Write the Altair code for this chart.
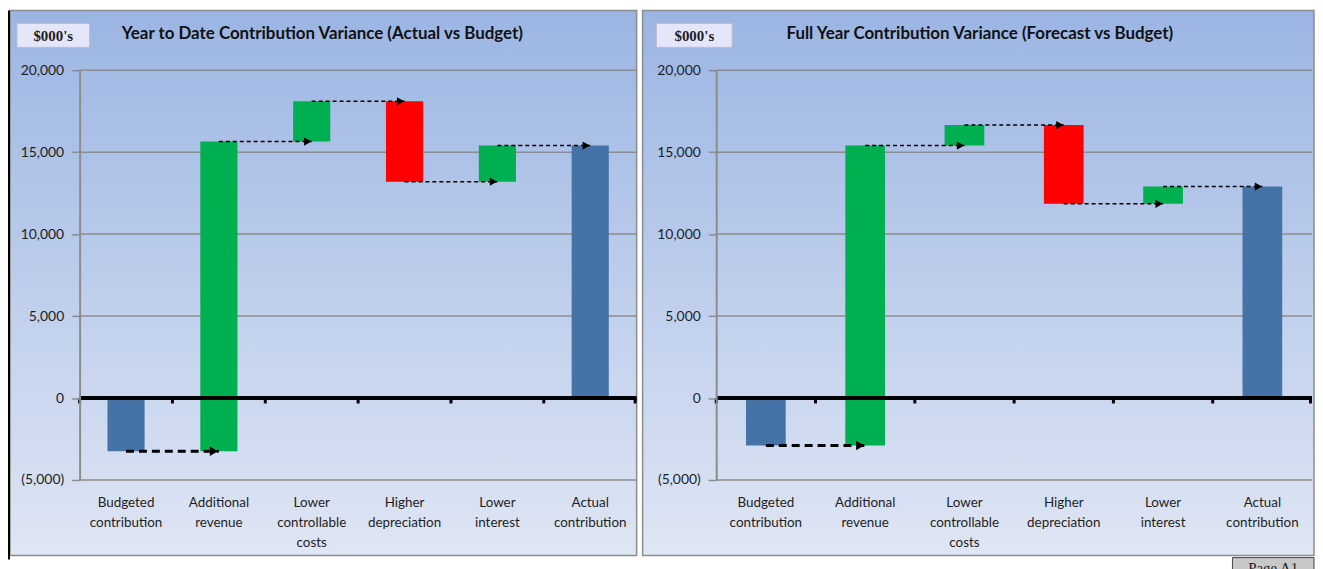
import altair as alt
import pandas as pd

# ---------------- data ----------------
cats = ["Budgeted|contribution", "Additional|revenue", "Lower|controllable|costs",
        "Higher|depreciation", "Lower|interest", "Actual|contribution"]
ytd_start = [0, -3250, 15650, 18100, 13200, 0]
ytd_end = [-3250, 15650, 18100, 13200, 15400, 15400]
fy_start = [0, -2900, 15400, 16650, 11850, 0]
fy_end = [-2900, 15400, 16650, 11850, 12900, 12900]
bar_colors = ["#4573A7", "#00B050", "#00B050", "#FF0000", "#00B050", "#4573A7"]
y_ticks = [-5000, 0, 5000, 10000, 15000, 20000]
grid_values = [-5000, 5000, 10000, 15000, 20000]
titles = ["Year to Date Contribution Variance (Actual vs Budget)",
          "Full Year Contribution Variance (Forecast vs Budget)"]
unit_label = "$000's"
page_label = "Page A1"

FONT = "Lato"
PLOT_H = 412
GRID = "#8C8C8C"


def panel(start, end, title, width, bg_x, bg_x2, box_x, box_x2, title_x, page=False, edge=False):
    step = width / len(cats)
    bars = pd.DataFrame({"cat": cats, "start": start, "end": end, "color": bar_colors})
    conn = pd.DataFrame({"from": cats[:-1], "to": cats[1:], "level": end[:-1],
                         "thick": [True] + [False] * (len(cats) - 2)})
    one = pd.DataFrame({"a": [0]})
    grid = pd.DataFrame({"v": grid_values})

    xs = alt.Scale(domain=cats, paddingInner=0.6, paddingOuter=0.3)
    ys = alt.Scale(domain=[-5000, 20000], nice=False, zero=False)

    # one shared axis definition per channel, given to every layer (no axis=None)
    yaxis = alt.Axis(values=y_ticks, grid=False, title=None, zindex=2,
                     labelExpr="datum.value < 0 ? '(' + format(-datum.value, ',') + ')' : format(datum.value, ',')",
                     domainColor=GRID, domainWidth=2, tickColor=GRID, tickWidth=1.5, tickSize=8,
                     labelPadding=8, labelFont=FONT, labelFontSize=14, labelColor="#1E1E1E")
    xaxis = alt.Axis(labelExpr="split(datum.label, '|')", labelAngle=0, ticks=False, domain=False,
                     labelPadding=16, labelFont=FONT, labelFontSize=13.5, labelLineHeight=20,
                     labelColor="#1E1E1E", title=None, zindex=2, labelLimit=0, labelBaseline="top")

    grad = alt.LinearGradient(gradient="linear",
                              stops=[alt.GradientStop(color="#9BB5E3", offset=0),
                                     alt.GradientStop(color="#DFE6F4", offset=1)],
                              x1=0, x2=0, y1=0, y2=1)
    layers = []
    bg = alt.Chart(one).mark_rect(fill=grad, stroke=GRID, strokeWidth=1.5).encode(
        x=alt.value(bg_x), x2=alt.value(bg_x2), y=alt.value(-60), y2=alt.value(488))
    layers.append(bg)
    if edge:
        layers.append(alt.Chart(one).mark_rule(color="black", strokeWidth=2).encode(
            x=alt.value(-71), y=alt.value(-60), y2=alt.value(492)))

    gr = alt.Chart(grid).mark_rule(color=GRID, strokeWidth=1.5).encode(
        y=alt.Y("v:Q", scale=ys, axis=yaxis))
    layers.append(gr)

    b = alt.Chart(bars).mark_bar().encode(
        x=alt.X("cat:N", scale=xs, axis=xaxis, sort=None),
        y=alt.Y("start:Q", scale=ys, axis=yaxis),
        y2=alt.Y2("end:Q"),
        color=alt.Color("color:N", scale=None))
    layers.append(b)

    zero = alt.Chart(one).mark_rule(color="black", strokeWidth=4).encode(
        y=alt.YDatum(0, scale=ys, axis=yaxis))
    layers.append(zero)

    ticks_l = alt.Chart(bars).mark_rule(color="black", strokeWidth=3, xOffset=-step / 2).encode(
        x=alt.X("cat:N", scale=xs, axis=xaxis, sort=None),
        y=alt.YDatum(0, scale=ys, axis=yaxis), y2=alt.Y2Datum(-330))
    ticks_r = alt.Chart(bars.tail(1)).mark_rule(color="black", strokeWidth=3,
                                                xOffset=step / 2 - 1.5).encode(
        x=alt.X("cat:N", scale=xs, axis=xaxis, sort=None),
        y=alt.YDatum(0, scale=ys, axis=yaxis), y2=alt.Y2Datum(-330))
    layers += [ticks_l, ticks_r]

    thin = alt.Chart(conn).transform_filter("!datum.thick").mark_rule(
        color="black", strokeWidth=1.5, strokeDash=[4, 3]).encode(
        x=alt.X("from:N", scale=xs, axis=xaxis, sort=None), x2=alt.X2("to:N"),
        y=alt.Y("level:Q", scale=ys, axis=yaxis))
    thick = alt.Chart(conn).transform_filter("datum.thick").mark_rule(
        color="black", strokeWidth=3, strokeDash=[8, 5]).encode(
        x=alt.X("from:N", scale=xs, axis=xaxis, sort=None), x2=alt.X2("to:N"),
        y=alt.Y("level:Q", scale=ys, axis=yaxis))
    head_thin = alt.Chart(conn).transform_filter("!datum.thick").mark_point(
        shape="triangle-right", filled=True, color="black", opacity=1, size=70, xOffset=-4).encode(
        x=alt.X("to:N", scale=xs, axis=xaxis, sort=None), y=alt.Y("level:Q", scale=ys, axis=yaxis))
    head_thick = alt.Chart(conn).transform_filter("datum.thick").mark_point(
        shape="triangle-right", filled=True, color="black", opacity=1, size=90, xOffset=-5).encode(
        x=alt.X("to:N", scale=xs, axis=xaxis, sort=None), y=alt.Y("level:Q", scale=ys, axis=yaxis))
    layers += [thin, thick, head_thin, head_thick]

    ttl = alt.Chart(one).mark_text(text=title, font=FONT, fontSize=17, fontWeight="bold",
                                   color="#111111", align="center", baseline="middle").encode(
        x=alt.value(title_x), y=alt.value(-36))
    box = alt.Chart(one).mark_rect(fill="#E6E6FA", stroke="#BDBDD0", strokeWidth=1).encode(
        x=alt.value(box_x), x2=alt.value(box_x2), y=alt.value(-47), y2=alt.value(-23))
    box_t = alt.Chart(one).mark_text(text=unit_label, font="Liberation Serif", fontSize=15,
                                     fontWeight="bold", color="#1E1E1E", align="center",
                                     baseline="middle").encode(
        x=alt.value((box_x + box_x2) / 2), y=alt.value(-34))
    layers += [ttl, box, box_t]

    if page:
        pb = alt.Chart(one).mark_rect(fill="#C8C8C8", stroke="#444444", strokeWidth=1).encode(
            x=alt.value(519), x2=alt.value(601), y=alt.value(490), y2=alt.value(505))
        pt = alt.Chart(one).mark_text(text=page_label, font="Liberation Serif", fontSize=15,
                                      color="#222222", align="center", baseline="top").encode(
            x=alt.value(560), y=alt.value(493))
        layers += [pb, pt]

    return alt.layer(*layers).properties(width=width, height=PLOT_H)


left = panel(ytd_start, ytd_end, titles[0], 560, -70, 560, -63, 10, 244, edge=True)
right = panel(fy_start, fy_end, titles[1], 599, -74, 601, -60, 16, 265, page=True)

chart = (alt.hconcat(left, right, spacing=3)
         .properties(padding=0)
         .configure_view(stroke=None)
         .configure_axis(zindex=2))
chart.save("out.html", embed_options={"renderer": "svg", "actions": False})
